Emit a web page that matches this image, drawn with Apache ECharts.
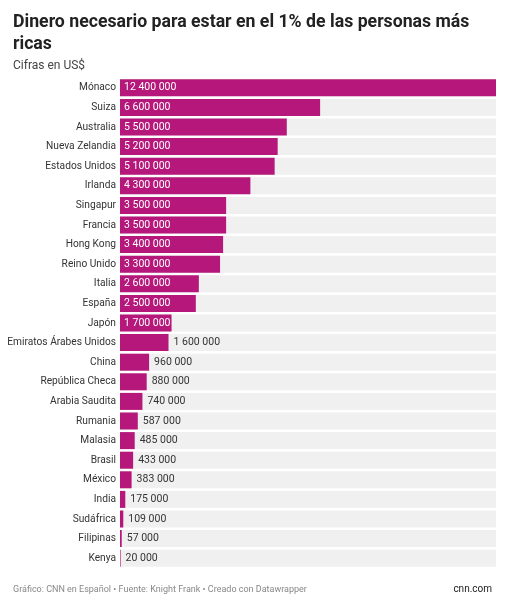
<!DOCTYPE html>
<html><head><meta charset="utf-8">
<script src="https://cdn.jsdelivr.net/npm/echarts@6/dist/echarts.min.js"></script>
<style>html,body{margin:0;padding:0;background:#fff}#c{width:505px;height:600px}</style>
</head><body><div id="c"></div>
<script>
const countries = ["Mónaco","Suiza","Australia","Nueva Zelandia","Estados Unidos","Irlanda","Singapur","Francia","Hong Kong","Reino Unido","Italia","España","Japón","Emiratos Árabes Unidos","China","República Checa","Arabia Saudita","Rumania","Malasia","Brasil","México","India","Sudáfrica","Filipinas","Kenya"];
const values = [12400000,6600000,5500000,5200000,5100000,4300000,3500000,3500000,3400000,3300000,2600000,2500000,1700000,1600000,960000,880000,740000,587000,485000,433000,383000,175000,109000,57000,20000];
const maxVal = 12400000;
const fmt = v => String(v).replace(/\B(?=(\d{3})+(?!\d))/g, ' ');
const chart = echarts.init(document.getElementById('c'));
const font = 'Roboto, sans-serif';
chart.setOption({
  animation:false,
  title:[
    {text:'Dinero necesario para estar en el 1% de las personas más\nricas',left:8,top:7,textStyle:{fontFamily:font,fontSize:17.7,fontWeight:'bold',color:'#222',lineHeight:22}},
    {text:'Cifras en US$',left:8,top:55,textStyle:{fontFamily:font,fontSize:12,fontWeight:'normal',color:'#444'}},
    {text:'Gráfico: CNN en Español • Fuente: Knight Frank • Creado con Datawrapper',left:8,top:580,textStyle:{fontFamily:font,fontSize:9,fontWeight:'normal',color:'#888'}},
    {text:'cnn.com',right:8,top:579,textStyle:{fontFamily:font,fontSize:10,fontWeight:'normal',color:'#222'}}
  ],
  grid:{left:120,right:9,top:78,height:490},
  xAxis:{type:'value',min:0,max:maxVal,show:false},
  yAxis:{type:'category',data:countries,inverse:true,axisLine:{show:false},axisTick:{show:false},
    axisLabel:{fontFamily:font,fontSize:10.2,color:'#333',margin:4}},
  series:[
    {type:'bar',data:values.map(()=>maxVal),barWidth:17,barGap:'-100%',itemStyle:{color:'#f0f0f0'},silent:true},
    {type:'bar',barWidth:17,itemStyle:{color:'#b5177a'},
     data:values.map(v=>({value:v,label:{show:true,position:v>=1700000?'insideLeft':'right',
       color:v>=1700000?'#fff':'#333',distance:5,offset:v>=1700000?[-1,0]:[0,0]}})),
     label:{fontFamily:font,fontSize:10.5,formatter:p=>fmt(p.value)}}
  ]
});
</script></body></html>
